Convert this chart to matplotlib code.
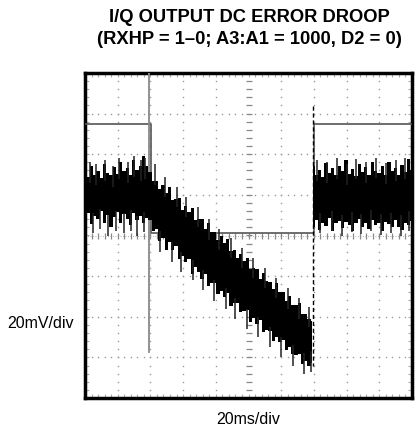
import numpy as np
import matplotlib
matplotlib.use("Agg")
import matplotlib.pyplot as plt

# scope trace in divisions (10 x 8 grid, centre = 0)
# noisy trace before the release, droop and recovery (upper / lower edge of the band)
upper_a = [1.62, 1.45, 1.70, 1.50, 1.58, 1.42, 1.75, 1.55, 1.48, 1.68,
           1.52, 1.80, 1.60, 1.66, 1.50, 1.85, 1.62, 1.72, 1.95, 1.70,
           1.57, 1.35, 1.35, 1.14, 1.25, 1.04, 1.20, 0.88, 0.89, 0.92,
           0.64, 0.72, 0.58, 0.67, 0.38, 0.41, 0.40, 0.15, 0.30, 0.08,
           0.08, -0.11, 0.00, -0.18, -0.08, -0.37, -0.36, -0.56, -0.45, -0.63,
           -0.55, -0.82, -0.81, -0.82, -1.06, -0.92, -1.12, -1.14, -1.31, -1.16,
           -1.39, -1.40, -1.61, -1.50, -1.70, -1.70, -1.67, -1.94, -1.93, -2.06,
           -2.10]
lower_a = [0.35, 0.55, 0.28, 0.48, 0.40, 0.60, 0.30, 0.50, 0.22, 0.45,
           0.58, 0.32, 0.52, 0.40, 0.25, 0.55, 0.38, 0.48, 0.30, 0.42,
           0.38, 0.10, 0.15, -0.14, -0.06, -0.36, -0.17, -0.36, -0.27, -0.58,
           -0.51, -0.66, -0.57, -0.95, -0.78, -0.91, -1.06, -0.95, -1.25, -1.17,
           -1.18, -1.43, -1.36, -1.51, -1.42, -1.74, -1.66, -1.67, -1.88, -1.85,
           -1.84, -2.12, -2.03, -2.18, -2.09, -2.37, -2.32, -2.34, -2.60, -2.50,
           -2.63, -2.56, -2.82, -2.75, -2.92, -2.93, -2.92, -3.16, -3.08, -3.20,
           -3.15]
upper_b = [1.70, 1.50, 1.62, 1.45, 1.78, 1.55, 1.66, 1.48, 1.72, 1.58,
           1.85, 1.52, 1.64, 1.47, 1.75, 1.56, 1.68, 1.50, 1.80, 1.60,
           1.54, 1.70, 1.48, 1.82, 1.58, 1.66, 1.50, 1.74, 1.57, 1.88, 1.62]
lower_b = [0.22, 0.37, 0.14, 0.32, 0.24, 0.42, 0.12, 0.30, 0.36, 0.18,
           0.34, 0.27, 0.10, 0.32, 0.40, 0.20, 0.30, 0.16, 0.37, 0.25,
           0.32, 0.12, 0.34, 0.28, 0.20, 0.38, 0.22, 0.14, 0.32, 0.26, 0.36]

# single noise spikes sticking out of the band
spike_up_t = [0.15, 0.35, 0.6, 0.85, 1.05, 1.3, 1.5, 1.7, 1.85,
              2.15, 2.45, 2.8, 3.1, 3.45, 3.8, 4.1, 4.45, 4.8, 5.15, 5.5, 5.85, 6.2, 6.55, 6.85,
              7.1, 7.4, 7.7, 8.0, 8.3, 8.6, 8.9, 9.2, 9.5, 9.8]
spike_up_v = [1.80, 1.75, 1.85, 1.70, 1.90, 1.80, 1.95, 1.85, 1.90,
              1.75, 1.45, 1.20, 0.95, 0.70, 0.40, 0.15, -0.05, -0.30, -0.55, -0.80, -1.05, -1.30, -1.55, -1.75,
              1.85, 1.80, 1.90, 1.75, 1.88, 1.80, 1.92, 1.78, 1.85, 1.90]
spike_dn_t = [0.25, 0.45, 0.7, 0.95, 1.2, 1.4, 1.6, 1.8,
              2.3, 2.65, 2.95, 3.3, 3.6, 3.95, 4.3, 4.6, 4.95, 5.3, 5.65, 6.0, 6.35, 6.7, 6.9,
              7.2, 7.55, 7.85, 8.15, 8.45, 8.75, 9.05, 9.35, 9.65, 9.9]
spike_dn_v = [0.05, 0.15, 0.00, 0.10, 0.05, 0.12, -0.02, 0.08,
              -0.40, -0.65, -0.90, -1.10, -1.35, -1.60, -1.80, -2.05, -2.30, -2.50, -2.75, -3.00, -3.20, -3.40, -3.35,
              0.05, 0.10, 0.00, 0.08, 0.04, 0.12, 0.02, 0.06, 0.00, 0.10]

# RXHP control (upper trace) and markers
rxhp_t = [0, 2.03, 2.03, 7.0, 7.0, 10]
rxhp_v = [2.75, 2.75, 0.05, 0.05, 2.75, 2.75]
cursor_t = 1.96
cursor_v = [4.0, -2.87]
step_t = 6.97
step_v = [3.2, -3.2]

t_a = np.linspace(0, 6.95, len(upper_a))
t_b = np.linspace(6.97, 10.0, len(upper_b))

fig = plt.figure(figsize=(4.17, 4.30), dpi=100)
ax = fig.add_axes([85 / 417, 32 / 430, 327 / 417, 325 / 430])
ax.set_xlim(0, 10)
ax.set_ylim(-4, 4)
ax.set_xticks([])
ax.set_yticks([])
for s in ax.spines.values():
    s.set_linewidth(2.5)

# dotted graticule
minor_x = np.arange(0, 10.01, 0.2)
minor_y = np.arange(-4, 4.01, 0.2)
for gx in range(1, 10):
    if gx == 5:
        continue
    ax.plot([gx] * len(minor_y), minor_y, ls="none", marker="s", ms=1.0,
            mfc="#999999", mec="none", zorder=1)
for gy in range(-3, 4):
    if gy == 0:
        continue
    ax.plot(minor_x, [gy] * len(minor_x), ls="none", marker="s", ms=1.0,
            mfc="#999999", mec="none", zorder=1)
# centre axes with small ticks
ax.plot([5] * len(minor_y), minor_y, ls="none", marker="_", ms=4, mew=0.9,
        color="#888888", zorder=1)
ax.plot(minor_x, [0] * len(minor_x), ls="none", marker="|", ms=4, mew=0.9,
        color="#888888", zorder=1)
ax.axhline(0, color="#999999", lw=0.6, ls=(0, (1, 2)), zorder=1)
# ticks on the frame
ax.plot(minor_x, [-3.95] * len(minor_x), ls="none", marker="|", ms=3, mew=0.8, color="#aaaaaa")
ax.plot(minor_x, [3.95] * len(minor_x), ls="none", marker="|", ms=3, mew=0.8, color="#aaaaaa")
ax.plot([0.06] * len(minor_y), minor_y, ls="none", marker="_", ms=3, mew=0.8, color="#aaaaaa")
ax.plot([9.94] * len(minor_y), minor_y, ls="none", marker="_", ms=3, mew=0.8, color="#aaaaaa")

# traces
ax.plot(rxhp_t, rxhp_v, color="#555555", lw=1.2, zorder=3)
ax.plot([cursor_t, cursor_t], cursor_v, color="#888888", lw=1.3, zorder=3)
ax.fill_between(t_a, lower_a, upper_a, color="black", lw=0, step="mid", zorder=4)
ax.fill_between(t_b, lower_b, upper_b, color="black", lw=0, step="mid", zorder=4)
ax.vlines(spike_up_t, np.array(spike_up_v) - 0.5, spike_up_v, color="#222222", lw=1.1, zorder=4)
ax.vlines(spike_dn_t, spike_dn_v, np.array(spike_dn_v) + 0.5, color="#222222", lw=1.1, zorder=4)
ax.plot([step_t, step_t], step_v, color="black", lw=1.0, ls=(0, (3, 2)), zorder=5)

title_font = ["Liberation Sans", "DejaVu Sans"]
fig.text(0.597, 1 - 18 / 430, "I/Q OUTPUT DC ERROR DROOP", ha="center", va="center",
         fontsize=13.2, fontweight="bold", family=title_font)
fig.text(0.597, 1 - 40 / 430, "(RXHP = 1\u20130; A3:A1 = 1000, D2 = 0)", ha="center", va="center",
         fontsize=13.2, fontweight="bold", family=title_font)
fig.text(41 / 417, 1 - 323 / 430, "20mV/div", ha="center", va="center",
         fontsize=11.5, family=title_font)
fig.text(248 / 417, 1 - 420 / 430, "20ms/div", ha="center", va="center",
         fontsize=11.5, family=title_font)

fig.savefig("out.png", dpi=100)
